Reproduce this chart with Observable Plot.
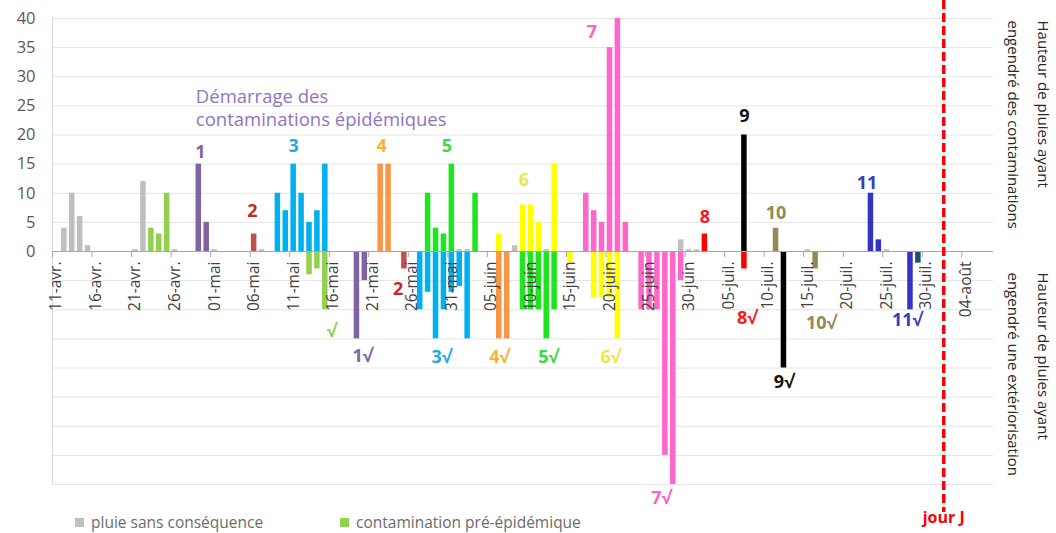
<!DOCTYPE html>
<html><head><meta charset="utf-8">
<script src="https://cdn.jsdelivr.net/npm/d3@7"></script>
<script src="https://cdn.jsdelivr.net/npm/@observablehq/plot@0.6"></script>
<style>
body{margin:0;background:#fff;font-family:"Open Sans",sans-serif;}
#wrap{position:relative;width:1056px;height:533px;overflow:hidden;}
#legend{position:absolute;left:0;top:511px;width:1056px;height:22px;font-size:15.5px;color:#6b6b6b;}
#legend .it{position:absolute;top:0;line-height:22px;white-space:nowrap;}
#legend .sw{display:inline-block;width:9px;height:9px;margin-right:7px;vertical-align:1px;}
</style></head><body>
<div id="wrap"><div id="chart"></div><div id="legend"></div></div>
<script>
const YEAR = 2021;

// ----- data: [jour, hauteur de pluie] (négatif = pluie ayant engendré une extériorisation)
const pluieSansConsequence = [["04-12",4],["04-13",10],["04-14",6],["04-15",1],["04-21",0.3],["04-22",12],["04-26",0.3],["05-01",0.3],["05-07",0.3],["06-01",0.3],["06-02",0.3],["06-08",1],["06-12",0.3],["06-29",2],["06-30",0.3],["07-01",0.3],["07-15",0.3],["07-25",0.3]];
const preEpidemique = [["04-23",4],["04-24",3],["04-25",10],["05-13",-4],["05-14",-3],["05-15",-10]];
const episode1 = [["04-29",15],["04-30",5],["05-19",-15],["05-20",-5]];
const episode2 = [["05-06",3],["05-25",-3]];
const episode3 = [["05-09",10],["05-10",7],["05-11",15],["05-12",10],["05-13",5],["05-14",7],["05-15",15],["05-27",-10],["05-28",-7],["05-29",-15],["05-30",-10],["05-31",-7],["06-01",-6],["06-02",-15]];
const episode4 = [["05-22",15],["05-23",15],["06-06",-15],["06-07",-15]];
const episode5 = [["05-28",10],["05-29",4],["05-30",3],["05-31",15],["06-03",10],["06-09",-10],["06-10",-10],["06-11",-10],["06-12",-15],["06-13",-10]];
const episode6 = [["06-06",3],["06-09",8],["06-10",8],["06-11",5],["06-13",15],["06-15",-2],["06-18",-8],["06-19",-8],["06-20",-8],["06-21",-15]];
const episode7 = [["06-17",10],["06-18",7],["06-19",5],["06-20",35],["06-21",40],["06-22",5],["06-24",-10],["06-25",-10],["06-26",-10],["06-27",-35],["06-28",-40],["06-29",-5]];
const episode8 = [["07-02",3],["07-07",-3]];
const episode9 = [["07-07",20],["07-12",-20]];
const episode10 = [["07-11",4],["07-16",-3]];
const episode11 = [["07-23",10],["07-24",2],["07-28",-10]];
const episode11b = [["07-29",-2]];

const seriesData = [pluieSansConsequence, preEpidemique, episode1, episode2, episode3, episode4, episode5, episode6, episode7, episode8, episode9, episode10, episode11, episode11b];
const seriesColors = ["#bfbfbf","#92d050","#8064a2","#c0504d","#00b0f0","#f79646","#1ee61e","#ffff00","#ff66cc","#ff0000","#000000","#948a54","#3434c4","#1f4e79"];

// axis
const tickDates = ["04-11","04-16","04-21","04-26","05-01","05-06","05-11","05-16","05-21","05-26","05-31","06-05","06-10","06-15","06-20","06-25","06-30","07-05","07-10","07-15","07-20","07-25","07-30","08-04"];
const tickLabels = ["11-avr.","16-avr.","21-avr.","26-avr.","01-mai","06-mai","11-mai","16-mai","21-mai","26-mai","31-mai","05-juin","10-juin","15-juin","20-juin","25-juin","30-juin","05-juil.","10-juil.","15-juil.","20-juil.","25-juil.","30-juil.","04-août"];
const yTicks = [0,5,10,15,20,25,30,35,40];
const gridValues = [-40,-35,-30,-25,-20,-15,-10,-5,5,10,15,20,25,30,35,40];
const domainDays = ["04-11","08-08"];
const jourJ = "08-01T17";

// annotations
const labelTexts = ["1","2","3","4","5","6","7","8","9","10","11","√","1√","2","3√","4√","5√","6√","7√","8√","9√","10√","11√"];
const labelDates = ["04-29T17","05-06T07","05-11T12","05-22T15","05-30T21","06-09T15","06-18T05","07-02T12","07-07T12","07-11T12","07-23T00","05-16T07","05-20T05","05-24T17","05-30T05","06-06T12","06-12T17","06-20T14","06-27T00","07-07T20","07-12T12","07-17T05","07-28T02"];
const labelValues = [17,6.9,18,18,18,12.2,37.6,5.8,23.2,6.5,11.8,-13.7,-17.9,-6.4,-18.2,-18.2,-18.2,-18.2,-42.4,-11.5,-22.5,-12.4,-11.8];
const labelColors = ["#8064a2","#c62828","#1fa9e1","#f5b335","#3fd83f","#efe44a","#f466c8","#f81818","#111111","#948a54","#3b3bbd","#92d050","#8064a2","#c62828","#1fa9e1","#f5b335","#3fd83f","#efe44a","#f466c8","#f81818","#111111","#948a54","#3b3bbd"];
const noteText = "Démarrage des\ncontaminations épidémiques";
const noteAt = ["04-29T03", 24.8];
const rightTitleTop = "Hauteur de pluies ayant\nengendré des contaminations";
const rightTitleBottom = "Hauteur de pluies ayant\nengendré une extériorisation";
const legendItems = [["pluie sans conséquence","#bfbfbf"],["contamination pré-épidémique","#92d050"]];

// ----- build
const parse = s => new Date(`${YEAR}-${s.length > 5 ? s + ":00" : s + "T00:00"}Z`);
const noon = s => new Date(parse(s).getTime() + 12 * 3600e3);

const bars = seriesData.flatMap((arr, i) => arr.map(([d, v]) => ({date: parse(d), value: v, color: seriesColors[i]})));
const ticks = tickDates.map((d, i) => ({date: d, label: tickLabels[i]}));
const labels = labelTexts.map((t, i) => ({t, date: parse(labelDates[i]), v: labelValues[i], c: labelColors[i]}));

const chart = Plot.plot({
  width: 1056,
  height: 533,
  marginLeft: 52,
  marginRight: 63,
  marginTop: 18,
  marginBottom: 49,
  style: {fontFamily: "'Open Sans', sans-serif", overflow: "visible", background: "#fff"},
  x: {type: "utc", domain: domainDays.map(parse), axis: null},
  y: {domain: [-40, 40]},
  marks: [
    Plot.ruleY(gridValues, {stroke: "#e4e4e4", strokeWidth: 1}),
    Plot.ruleX([parse(domainDays[0])], {stroke: "#d6d6d6"}),
    Plot.axisY({ticks: yTicks, tickSize: 0, tickPadding: 17, fontSize: 16.5, color: "#595959", label: null}),
    Plot.rectY(bars, {x: "date", interval: d3.utcDay, y1: 0, y2: "value", fill: "color", insetLeft: 1.2, insetRight: 1.2}),
    Plot.ruleY([0], {stroke: "#a6a6a6", strokeWidth: 1.2}),
    Plot.ruleX(tickDates, {x: d => parse(d), y1: 0, y2: 0, insetBottom: -6, stroke: "#a6a6a6"}),
    Plot.text(ticks, {x: d => noon(d.date), y: 0, text: "label", rotate: -90, textAnchor: "end", dy: 10, fontSize: 15.5, fill: "#404040"}),
    Plot.text([noteText], {x: parse(noteAt[0]), y: noteAt[1], textAnchor: "start", lineHeight: 1.25, fontSize: 18.5, fill: "#9174bf"}),
    Plot.text(labels, {x: "date", y: "v", text: "t", fill: "c", fontSize: 18, fontWeight: "bold"}),
    Plot.ruleX([parse(jourJ)], {stroke: "#ff0000", strokeWidth: 3.5, strokeDasharray: "9,4", insetTop: -18, insetBottom: -28}),
    Plot.text([{d: parse(jourJ), t: "jour J"}], {x: "d", text: "t", frameAnchor: "bottom", dy: 38, fill: "#ff0000", fontWeight: "bold", fontSize: 16}),
    Plot.text([rightTitleTop], {frameAnchor: "top-right", rotate: 90, textAnchor: "start", lineAnchor: "middle", dx: 39, dy: 2, fontSize: 15, lineHeight: 2, fill: "#262626"}),
    Plot.text([rightTitleBottom], {frameAnchor: "right", rotate: 90, textAnchor: "start", lineAnchor: "middle", dx: 39, dy: 21, fontSize: 15, lineHeight: 2, fill: "#262626"})
  ]
});
document.getElementById("chart").appendChild(chart);

const legend = document.getElementById("legend");
const legendLeft = [75, 340];
legendItems.forEach(([name, color], i) => {
  const it = document.createElement("div");
  it.className = "it";
  it.style.left = legendLeft[i] + "px";
  it.innerHTML = `<span class="sw" style="background:${color}"></span>${name}`;
  legend.appendChild(it);
});
</script>
</body></html>
